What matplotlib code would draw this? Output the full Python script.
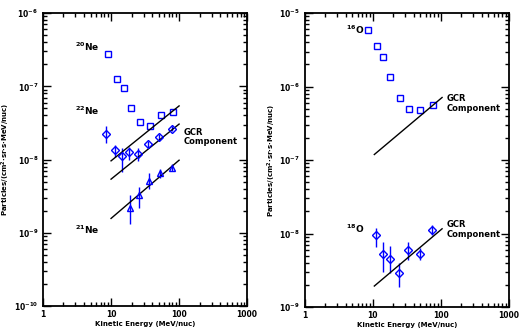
import matplotlib
matplotlib.use('Agg')
import matplotlib.pyplot as plt
import numpy as np

plt.rcParams['font.family'] = ['DejaVu Sans']
plt.rcParams['mathtext.default'] = 'regular'

# ---- left panel: neon isotopes ----
ne20_e = [9.1, 12.4, 15.7, 19.9, 27, 37, 55, 81.6]
ne20_f = [2.73e-7, 1.24e-7, 9.6e-8, 5.1e-8, 3.3e-8, 2.9e-8, 4.0e-8, 4.4e-8]

ne22_e = [8.5, 11.6, 14.7, 18.6, 25.2, 34.6, 51.4, 79]
ne22_f = [2.25e-8, 1.35e-8, 1.12e-8, 1.25e-8, 1.2e-8, 1.63e-8, 2.03e-8, 2.64e-8]
ne22_lo = [1.7e-8, 1.1e-8, 6.8e-9, 1.0e-8, 0.95e-8, 1.45e-8, 1.85e-8, 2.45e-8]
ne22_hi = [2.9e-8, 1.6e-8, 1.45e-8, 1.5e-8, 1.45e-8, 1.8e-8, 2.2e-8, 2.85e-8]

ne21_e = [19.2, 26, 36.4, 52.6, 80]
ne21_f = [2.2e-9, 3.3e-9, 5.1e-9, 6.5e-9, 7.7e-9]
ne21_lo = [1.3e-9, 2.2e-9, 4.0e-9, 5.6e-9, 7.0e-9]
ne21_hi = [3.3e-9, 4.2e-9, 6.6e-9, 7.5e-9, 8.6e-9]

gcr_left_e = [10, 100]
gcr_left = [[9.6e-9, 5.4e-8], [5.4e-9, 3.05e-8], [1.57e-9, 9.8e-9]]

# ---- right panel: oxygen isotopes ----
o16_e = [8.5, 11.6, 14.2, 18, 25.2, 34.2, 49.7, 76]
o16_f = [5.8e-6, 3.55e-6, 2.5e-6, 1.37e-6, 6.9e-7, 5.0e-7, 4.86e-7, 5.7e-7]

o18_e = [11.1, 14, 18, 24.4, 33, 49.7, 74.5]
o18_f = [9.5e-9, 5.3e-9, 4.5e-9, 2.9e-9, 6.0e-9, 5.3e-9, 1.12e-8]
o18_lo = [6.6e-9, 3.0e-9, 2.9e-9, 1.9e-9, 4.3e-9, 4.3e-9, 9.5e-9]
o18_hi = [1.2e-8, 7.6e-9, 6.8e-9, 4.0e-9, 7.7e-9, 6.4e-9, 1.3e-8]

gcr_right_e = [10.5, 104]
gcr_right = [[1.19e-7, 7.1e-7], [1.93e-9, 1.16e-8]]

BLUE = '#0000ff'
ylab = r'Particles/(cm$^{2}$$\cdot$sr$\cdot$s$\cdot$MeV/nuc)'
xlab = 'Kinetic Energy (MeV/nuc)'

fig = plt.figure(figsize=(5.22, 3.34), dpi=100)
ax1 = fig.add_axes([0.0824, 0.0838, 0.391, 0.877])
ax2 = fig.add_axes([0.584, 0.0808, 0.391, 0.880])


def style(ax, ylim):
    ax.set_xscale('log')
    ax.set_yscale('log')
    ax.set_xlim(1, 1000)
    ax.set_ylim(*ylim)
    ax.tick_params(which='both', direction='in', top=True, right=True,
                   labelsize=5.5, width=1.0)
    ax.tick_params(which='major', length=6)
    ax.tick_params(which='minor', length=3)
    ax.tick_params(axis='x', pad=3)
    ax.set_xticks([1, 10, 100, 1000])
    ax.set_xticklabels(['1', '10', '100', '1000'], fontweight='bold')
    for lab in ax.get_yticklabels():
        lab.set_fontweight('bold')
    for s in ax.spines.values():
        s.set_linewidth(1.3)
    ax.set_xlabel(xlab, fontsize=5, fontweight='bold', labelpad=1)
    ax.set_ylabel(ylab, fontsize=5, fontweight='bold', labelpad=1)


def errs(f, lo, hi):
    f = np.array(f)
    return [f - np.array(lo), np.array(hi) - f]


txt = dict(fontsize=6.5, fontweight='bold', va='center', ha='left')
gcr_txt = dict(fontsize=6, fontweight='bold', va='center', ha='left',
               linespacing=1.1)

# left
ax1.plot(ne20_e, ne20_f, ls='none', marker='s', ms=4.5, mfc='none',
         mec=BLUE, mew=1.0)
ax1.errorbar(ne22_e, ne22_f, yerr=errs(ne22_f, ne22_lo, ne22_hi), fmt='D',
             ms=4.5, mfc='none', mec=BLUE, mew=1.0, ecolor=BLUE, elinewidth=1.0,
             capsize=0)
ax1.errorbar(ne21_e, ne21_f, yerr=errs(ne21_f, ne21_lo, ne21_hi), fmt='^',
             ms=4.5, mfc='none', mec=BLUE, mew=1.0, ecolor=BLUE, elinewidth=1.0,
             capsize=0)
for line in gcr_left:
    ax1.plot(gcr_left_e, line, color='black', lw=1.0)
style(ax1, (1e-10, 1e-6))
ax1.text(2.95, 3.5e-7, r'$^{20}$Ne', **txt)
ax1.text(2.95, 4.7e-8, r'$^{22}$Ne', **txt)
ax1.text(2.95, 1.1e-9, r'$^{21}$Ne', **txt)
ax1.text(118, 2.04e-8, 'GCR\nComponent', **gcr_txt)

# right
ax2.plot(o16_e, o16_f, ls='none', marker='s', ms=4.5, mfc='none',
         mec=BLUE, mew=1.0)
ax2.errorbar(o18_e, o18_f, yerr=errs(o18_f, o18_lo, o18_hi), fmt='D',
             ms=4.5, mfc='none', mec=BLUE, mew=1.0, ecolor=BLUE, elinewidth=1.0,
             capsize=0)
for line in gcr_right:
    ax2.plot(gcr_right_e, line, color='black', lw=1.0)
style(ax2, (1e-9, 1e-5))
ax2.text(4.0, 5.9e-6, r'$^{16}$O', **txt)
ax2.text(4.0, 1.17e-8, r'$^{18}$O', **txt)
ax2.text(123, 5.9e-7, 'GCR\nComponent', **gcr_txt)
ax2.text(123, 1.14e-8, 'GCR\nComponent', **gcr_txt)

fig.savefig('out.png', dpi=100, facecolor='white')
